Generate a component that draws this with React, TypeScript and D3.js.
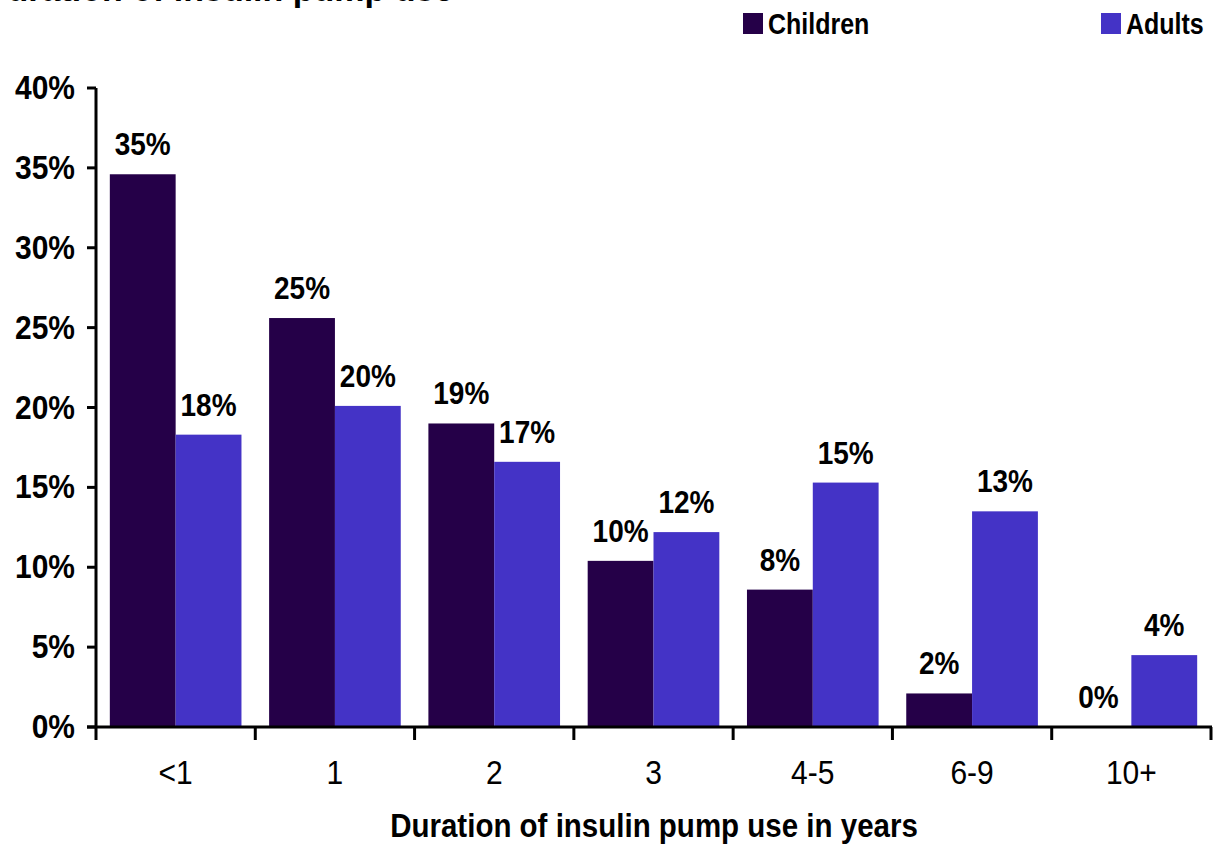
import React from "react";
import * as d3 from "d3";

const categories = ["<1", "1", "2", "3", "4-5", "6-9", "10+"];
const seriesNames = ["Children", "Adults"];
const childrenValues = [34.6, 25.6, 19.0, 10.4, 8.6, 2.1, 0];
const adultsValues = [18.3, 20.1, 16.6, 12.2, 15.3, 13.5, 4.5];
const childrenLabels = ["35%", "25%", "19%", "10%", "8%", "2%", "0%"];
const adultsLabels = ["18%", "20%", "17%", "12%", "15%", "13%", "4%"];
const yTicks = [0, 5, 10, 15, 20, 25, 30, 35, 40];
const colors = ["#250048", "#4433C6"];
const titleText = "Duration of insulin pump use";
const xTitle = "Duration of insulin pump use in years";

const W = 1214;
const H = 844;
const FONT = "'Liberation Sans', Arial, sans-serif";

export default function App() {
  const x = d3.scaleBand<string>().domain(categories).range([96, 1211]).padding(0);
  const xs = d3
    .scaleBand<string>()
    .domain(seriesNames)
    .range([0, x.bandwidth()])
    .paddingInner(0)
    .paddingOuter(0.21);
  const y = d3.scaleLinear().domain([0, 40]).range([727, 88]);
  const series = [
    { name: "Children", values: childrenValues, labels: childrenLabels },
    { name: "Adults", values: adultsValues, labels: adultsLabels },
  ];
  const fmt = (v: number) => `${v}%`;

  const stretched = (
    tx: number,
    ty: number,
    text: string,
    size: number,
    weight: string | number,
    anchor: string,
    sy = 1.12,
    key?: string
  ) => (
    <text
      key={key}
      transform={`translate(${tx},${ty}) scale(1,${sy})`}
      fontFamily={FONT}
      fontSize={size}
      fontWeight={weight}
      textAnchor={anchor}
      fill="#000"
    >
      {text}
    </text>
  );

  return (
    <svg
      width={W}
      height={H}
      style={{ position: "absolute", left: 0, top: 0, background: "#fff" }}
    >
      {/* title, cut off at the top edge as in the reference */}
      {stretched(-17, 1, titleText, 34, "bold", "start", 1.0)}

      {/* legend */}
      {seriesNames.map((s, i) => {
        const lx = i === 0 ? 743 : 1101;
        return (
          <g key={s}>
            <rect x={lx} y={13} width={20} height={21} fill={colors[i]} />
            {stretched(lx + 25, 34, s, 25, "bold", "start", 1.2)}
          </g>
        );
      })}

      {/* bars */}
      {series.map((s, si) =>
        categories.map((c, ci) => {
          const bx = (x(c) as number) + (xs(s.name) as number);
          const bw = xs.bandwidth();
          const v = s.values[ci];
          return (
            <g key={s.name + c}>
              {v > 0 && (
                <rect x={bx} y={y(v)} width={bw} height={y(0) - y(v)} fill={colors[si]} />
              )}
              {stretched(bx + bw / 2, y(v) - 19, s.labels[ci], 28, "bold", "middle", 1.12)}
            </g>
          );
        })
      )}

      {/* y axis */}
      <line x1={96} x2={96} y1={y(40)} y2={740} stroke="#000" strokeWidth={3} />
      {yTicks.map((t) => (
        <g key={t}>
          <line x1={87} x2={96} y1={y(t)} y2={y(t)} stroke="#000" strokeWidth={3} />
          {stretched(75, y(t) + 11, fmt(t), 30, 600, "end", 1.12)}
        </g>
      ))}

      {/* x axis */}
      <line x1={87} x2={1212} y1={y(0)} y2={y(0)} stroke="#000" strokeWidth={3} />
      {categories.map((c) => (
        <line
          key={"t" + c}
          x1={(x(c) as number) + x.bandwidth()}
          x2={(x(c) as number) + x.bandwidth()}
          y1={y(0)}
          y2={740}
          stroke="#000"
          strokeWidth={3}
        />
      ))}
      {categories.map((c) =>
        stretched((x(c) as number) + x.bandwidth() / 2, 784, c, 30, "normal", "middle", 1.1, "c" + c)
      )}

      {stretched(654, 837, xTitle, 29.5, "bold", "middle", 1.12)}
    </svg>
  );
}
